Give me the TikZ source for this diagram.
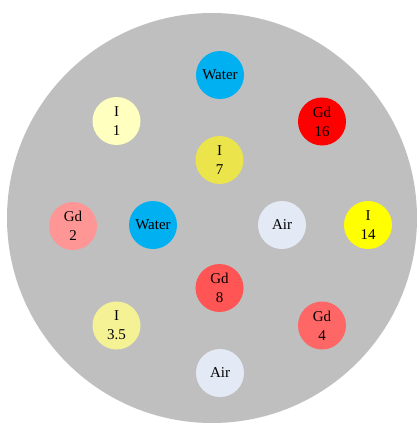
\documentclass[tikz,border=0pt]{standalone}
\usepackage{fontspec}
\setmainfont{Liberation Serif}
\definecolor{bgray}{RGB}{191,191,191}
\definecolor{water}{RGB}{0,176,240}
\definecolor{ione}{RGB}{255,255,192}
\definecolor{gdsixteen}{RGB}{255,0,0}
\definecolor{iseven}{RGB}{235,228,74}
\definecolor{gdtwo}{RGB}{255,150,150}
\definecolor{air}{RGB}{228,234,245}
\definecolor{ifourteen}{RGB}{255,255,0}
\definecolor{gdeight}{RGB}{255,85,85}
\definecolor{ithree}{RGB}{245,242,150}
\definecolor{gdfour}{RGB}{255,102,102}
\tikzset{
  vial/.style={circle, minimum size=48pt, inner sep=0pt, align=center,
    font=\fontsize{15}{19}\selectfont, text=black}
}
\begin{document}
\begin{tikzpicture}[x=1pt,y=-1pt]
\useasboundingbox (0,0) rectangle (417,423);
\clip (0,0) rectangle (417,423);
\fill[bgray] (212,218) circle[radius=205];
\node[vial, fill=water] (w1) at (220,75) {Water};
\node[vial, fill=ione] (i1) at (116.5,121) {I\\1};
\node[vial, fill=gdsixteen] (g16) at (322,121.5) {Gd\\16};
\node[vial, fill=iseven] (i7) at (219.5,160) {I\\7};
\node[vial, fill=gdtwo] (g2) at (73,226) {Gd\\2};
\node[vial, fill=water] (w2) at (153,225) {Water};
\node[vial, fill=air] (a1) at (282,225) {Air};
\node[vial, fill=ifourteen] (i14) at (368,225) {I\\14};
\node[vial, fill=gdeight] (g8) at (219.5,288) {Gd\\8};
\node[vial, fill=ithree] (i35) at (116.5,325.5) {I\\3.5};
\node[vial, fill=gdfour] (g4) at (322,325.5) {Gd\\4};
\node[vial, fill=air] (a2) at (220,373) {Air};
\end{tikzpicture}
\end{document}
